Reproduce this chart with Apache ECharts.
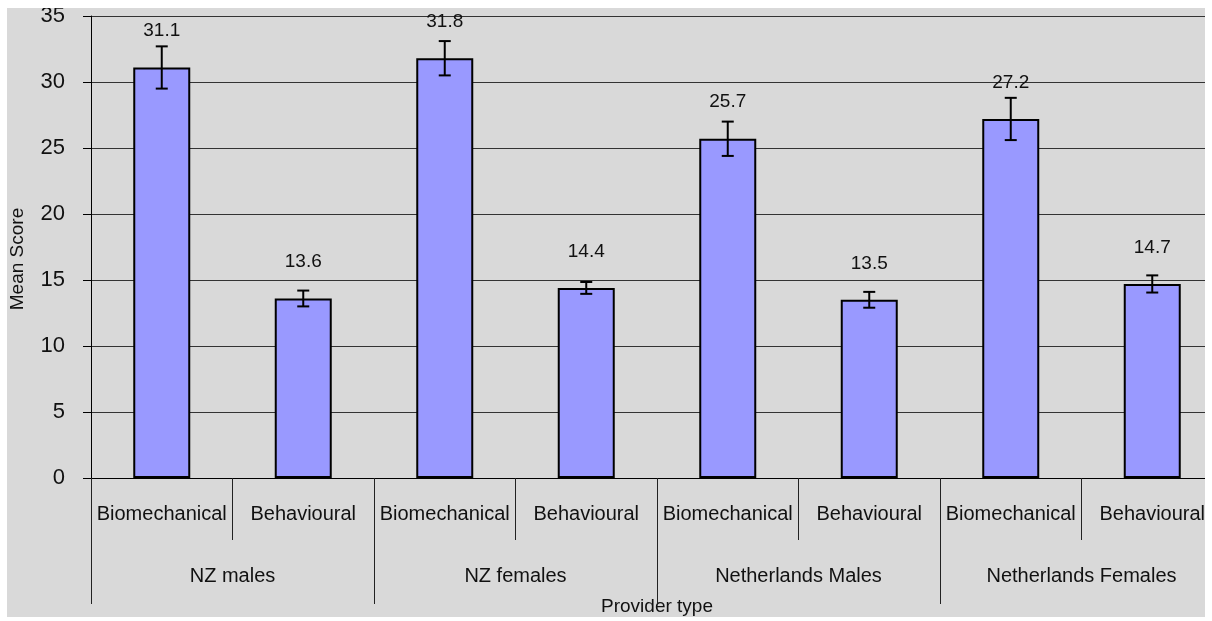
<!DOCTYPE html>
<html>
<head>
<meta charset="utf-8">
<script src="https://cdn.jsdelivr.net/npm/echarts@6/dist/echarts.min.js"></script>
<style>
  html, body { margin: 0; padding: 0; background: #ffffff; }
  #frame { position: absolute; left: 7px; top: 8px; width: 1198px; height: 609px; background: #d9d9d9; overflow: hidden; }
  #chart { position: absolute; left: -7px; top: -8px; width: 1250px; height: 621px; }
</style>
</head>
<body>
<div id="frame"><div id="chart"></div></div>
<script>
const providerTypes = ['Biomechanical', 'Behavioural', 'Biomechanical', 'Behavioural', 'Biomechanical', 'Behavioural', 'Biomechanical', 'Behavioural'];
const groups = ['NZ males', 'NZ females', 'Netherlands Males', 'Netherlands Females'];
const meanScores = [31.1, 13.6, 31.8, 14.4, 25.7, 13.5, 27.2, 14.7];
const errorMargins = [1.6, 0.6, 1.3, 0.45, 1.3, 0.6, 1.6, 0.65];
const yTicks = { min: 0, max: 35, interval: 5 };

const FONT = 'Liberation Sans, Arial, sans-serif';
const chart = echarts.init(document.getElementById('chart'), null, { renderer: 'canvas' });

const errorData = meanScores.map((v, i) => [i, v - errorMargins[i], v + errorMargins[i]]);

chart.setOption({
  animation: false,
  backgroundColor: 'transparent',
  grid: { left: 90, top: 16, width: 1133, height: 462 },
  xAxis: [
    {
      type: 'category',
      data: providerTypes,
      position: 'bottom',
      axisLine: { show: true, lineStyle: { color: '#000', width: 1 } },
      axisTick: { show: true, interval: 0, length: 62, lineStyle: { color: '#222', width: 1 } },
      axisLabel: { interval: 0, margin: 26, fontSize: 20, color: '#111', fontFamily: FONT }
    },
    {
      type: 'category',
      data: groups,
      position: 'bottom',
      gridIndex: 0,
      axisLine: { show: false },
      axisTick: { show: true, interval: 0, length: 126, lineStyle: { color: '#222', width: 1 } },
      axisLabel: { interval: 0, margin: 88, fontSize: 20, color: '#111', fontFamily: FONT },
      name: 'Provider type',
      nameLocation: 'middle',
      nameGap: 119,
      nameTextStyle: { fontSize: 19, color: '#111', fontFamily: FONT }
    }
  ],
  yAxis: {
    type: 'value',
    min: yTicks.min,
    max: yTicks.max,
    interval: yTicks.interval,
    name: 'Mean Score',
    nameLocation: 'middle',
    nameGap: 64,
    nameTextStyle: { fontSize: 19, color: '#111', fontFamily: FONT, padding: [0, 24, 0, 0] },
    axisLine: { show: true, lineStyle: { color: '#000', width: 1 } },
    axisTick: { show: true, length: 8, lineStyle: { color: '#000' } },
    axisLabel: { margin: 26, fontSize: 22, color: '#111', fontFamily: FONT },
    splitLine: { show: true, lineStyle: { color: '#333', width: 1 } }
  },
  series: [
    {
      type: 'bar',
      xAxisIndex: 0,
      data: meanScores,
      barWidth: 57,
      itemStyle: { color: '#9999ff', borderColor: '#000', borderWidth: 2 },
      label: {
        show: true,
        position: 'top',
        distance: 27,
        fontSize: 19,
        color: '#111',
        fontFamily: FONT,
        formatter: p => p.value.toFixed(1)
      },
      z: 2
    },
    {
      type: 'custom',
      xAxisIndex: 0,
      data: errorData,
      z: 3,
      renderItem: function (params, api) {
        const x = api.value(0);
        const lo = api.coord([x, api.value(1)]);
        const hi = api.coord([x, api.value(2)]);
        const cap = 6;
        const style = { stroke: '#000', lineWidth: 2 };
        return {
          type: 'group',
          children: [
            { type: 'line', shape: { x1: hi[0], y1: hi[1], x2: lo[0], y2: lo[1] }, style: style },
            { type: 'line', shape: { x1: hi[0] - cap, y1: hi[1], x2: hi[0] + cap, y2: hi[1] }, style: style },
            { type: 'line', shape: { x1: lo[0] - cap, y1: lo[1], x2: lo[0] + cap, y2: lo[1] }, style: style }
          ]
        };
      }
    }
  ]
});
</script>
</body>
</html>
